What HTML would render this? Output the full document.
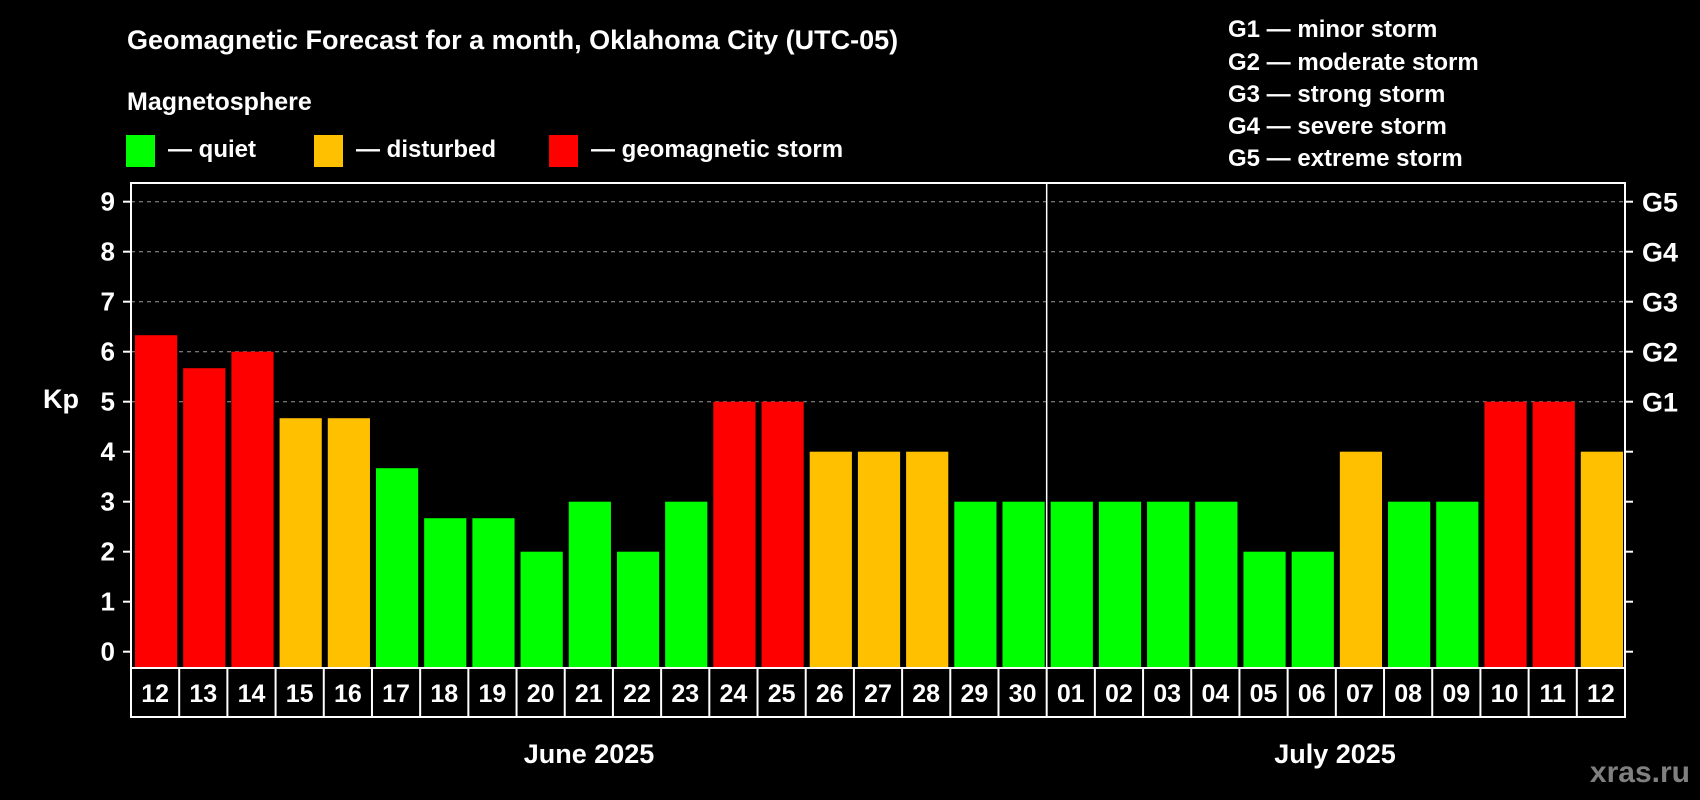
<!DOCTYPE html>
<html><head><meta charset="utf-8"><style>
body{margin:0;background:#000;}
svg{display:block;font-family:"Liberation Sans",Arial,sans-serif;font-weight:bold;}
</style></head><body>
<svg id="chart" width="1700" height="800" viewBox="0 0 1700 800">
<rect width="1700" height="800" fill="#000"/>
<text x="127" y="49" font-size="27" fill="#fff">Geomagnetic Forecast for a month, Oklahoma City (UTC-05)</text>
<text x="127" y="110" font-size="25" fill="#fff">Magnetosphere</text>
<g><rect x="126" y="135" width="29" height="32" fill="#00ff00"/><text x="168" y="157" font-size="24" fill="#fff">— quiet</text></g>
<g><rect x="314" y="135" width="29" height="32" fill="#ffc000"/><text x="356" y="157" font-size="24" fill="#fff">— disturbed</text></g>
<g><rect x="549" y="135" width="29" height="32" fill="#ff0000"/><text x="591" y="157" font-size="24" fill="#fff">— geomagnetic storm</text></g>
<g font-size="24" fill="#fff">
<text x="1228" y="37">G1 — minor storm</text>
<text x="1228" y="70">G2 — moderate storm</text>
<text x="1228" y="102">G3 — strong storm</text>
<text x="1228" y="134">G4 — severe storm</text>
<text x="1228" y="166">G5 — extreme storm</text>
</g>
<g id="grid"></g>
<g id="bars"></g>
<g id="axes"></g>
<text x="43" y="408" font-size="27" fill="#fff">Kp</text>
<text x="589" y="763" font-size="27" fill="#fff" text-anchor="middle">June 2025</text>
<text x="1335" y="763" font-size="27" fill="#fff" text-anchor="middle">July 2025</text>
<text x="1690" y="782" font-size="30" fill="#808080" text-anchor="end">xras.ru</text>
</svg>
<script>
const days = ["12","13","14","15","16","17","18","19","20","21","22","23","24","25","26","27","28","29","30","01","02","03","04","05","06","07","08","09","10","11","12"];
const kpValues = [6.33,5.67,6,4.67,4.67,3.67,2.67,2.67,2,3,2,3,5,5,4,4,4,3,3,3,3,3,3,2,2,4,3,3,5,5,4];
const yTicks = [0,1,2,3,4,5,6,7,8,9];
const gLabels = ["","","","","","G1","G2","G3","G4","G5"];
const NS="http://www.w3.org/2000/svg";
const L=131,R=1625,T=183,B=668,Y0=651.7,PX=50;
const cw=(R-L)/days.length;
const y=v=>Y0-v*PX;
const xc=i=>L+i*cw;
function mk(tag,at,parent){const e=document.createElementNS(NS,tag);for(const k in at)e.setAttribute(k,at[k]);parent.appendChild(e);return e;}
const grid=document.getElementById('grid'),bars=document.getElementById('bars'),axes=document.getElementById('axes');
yTicks.forEach(t=>{ if(t>=5){const l=mk('line',{x1:L,x2:R,y1:y(t),y2:y(t),stroke:'#9a9a9a','stroke-width':1,'stroke-dasharray':'4,4'},grid);

}});
kpValues.forEach((v,i)=>{const c=v>=5?'#ff0000':(v>=4?'#ffc000':'#00ff00');
const r=mk('rect',{x:xc(i)+4,y:y(v),width:cw-6,height:Y0-y(v)+16.3,fill:c},bars);

});
// frame
const f=mk('rect',{x:L,y:T,width:R-L,height:B-T,fill:'none',stroke:'#fff','stroke-width':2},axes);


const dv=mk('line',{x1:xc(19),x2:xc(19),y1:T,y2:B,stroke:'#fff','stroke-width':1.5},axes);


yTicks.forEach((t,k)=>{
mk('line',{x1:L-8,x2:L,y1:y(t),y2:y(t),stroke:'#fff','stroke-width':2},axes);
mk('line',{x1:R,x2:R+8,y1:y(t),y2:y(t),stroke:'#fff','stroke-width':2},axes);
const tl=mk('text',{x:115,y:y(t)+9,'font-size':26,fill:'#fff','text-anchor':'end'},axes);tl.textContent=t;


if(gLabels[k]){const g=mk('text',{x:1642,y:y(t)+10,'font-size':27,fill:'#fff'},axes);g.textContent=gLabels[k];

}
});
const lb=mk('rect',{x:L,y:B,width:R-L,height:49,fill:'none',stroke:'#fff','stroke-width':2},axes);


days.forEach((d,i)=>{
if(i>0)mk('line',{x1:xc(i),x2:xc(i),y1:B,y2:B+49,stroke:'#fff','stroke-width':2},axes);
const t=mk('text',{x:xc(i)+cw/2,y:B+34,'font-size':25,fill:'#fff','text-anchor':'middle'},axes);t.textContent=d;


});
</script>
</body></html>
